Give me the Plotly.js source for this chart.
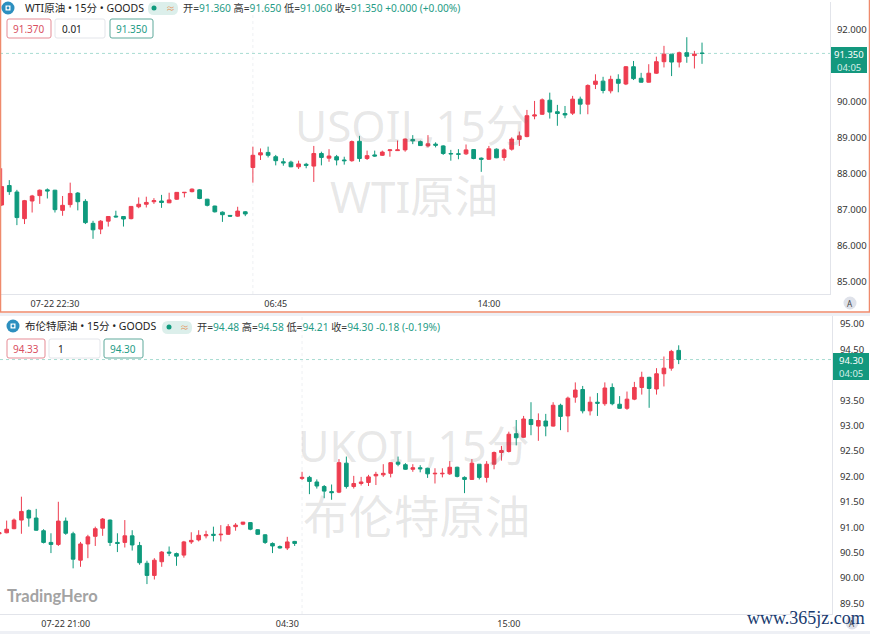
<!DOCTYPE html>
<html>
<head>
<meta charset="utf-8">
<script src="https://cdn.plot.ly/plotly-3.0.1.min.js"></script>
<style>html,body{margin:0;padding:0;background:#fff}#chart{width:870px;height:634px}</style>
</head>
<body>
<div id="chart"></div>
<script>
// ---------- WTI (USOIL) 15 min ----------
const wtiOpen = [87.14,87.68,87.50,86.76,87.25,87.40,87.56,87.55,86.99,87.15,87.47,87.24,86.63,86.47,86.69,86.83,86.82,86.76,87.09,87.16,87.23,87.25,87.20,87.30,87.48,87.51,87.56,87.30,87.11,86.94,86.85,86.83,86.95,
88.18,88.53,88.60,88.48,88.34,88.33,88.20,88.27,88.22,88.57,88.44,88.48,88.39,88.37,88.91,88.43,88.53,88.52,88.65,88.65,88.67,88.96,88.90,88.78,88.83,88.78,88.57,88.56,88.56,88.68,88.44,88.41,88.69,88.46,88.69,88.96,89.04,89.61,89.66,90.05,89.73,89.68,89.69,90.08,89.94,90.49,90.58,90.31,90.63,90.50,90.98,90.66,90.55,90.80,91.12,91.33,91.11,91.37,91.29,91.36];
const wtiHigh = [88.16,87.83,87.56,87.28,87.42,87.57,87.60,87.56,87.39,87.76,87.50,87.30,86.70,86.72,86.83,86.98,86.83,87.11,87.35,87.37,87.33,87.42,87.48,87.50,87.50,87.60,87.58,87.31,87.12,86.96,86.86,87.09,86.97,
88.76,88.71,88.76,88.53,88.44,88.37,88.37,88.31,88.78,88.62,88.69,88.53,88.48,88.93,89.06,88.65,88.65,88.65,88.69,88.93,88.99,89.08,88.93,89.08,88.88,88.80,88.67,88.69,88.82,88.69,88.46,88.78,88.71,88.71,89.02,89.18,89.78,90.03,90.10,90.26,89.92,89.89,90.17,90.15,90.49,90.77,90.70,90.73,90.77,91.00,91.14,90.81,91.05,91.26,91.56,91.33,91.40,91.80,91.42,91.65];
const wtiLow = [87.11,87.42,86.58,86.61,86.93,87.17,87.32,86.93,86.84,87.07,86.99,86.61,86.20,86.33,86.54,86.79,86.54,86.74,87.05,87.07,87.17,87.06,87.19,87.28,87.35,87.49,87.30,87.10,86.93,86.67,86.81,86.81,86.83,
87.76,88.39,88.46,88.24,88.23,88.19,88.14,88.16,87.78,88.24,88.34,88.24,88.26,88.34,88.34,88.39,88.48,88.50,88.48,88.64,88.62,88.83,88.78,88.74,88.74,88.53,88.37,88.41,88.53,88.41,88.06,88.39,88.44,88.37,88.65,88.78,89.02,89.52,89.64,89.54,89.34,89.55,89.64,89.66,89.66,90.36,90.24,90.24,90.27,90.47,90.61,90.54,90.54,90.78,90.96,90.72,90.96,91.09,90.93,91.06];
const wtiClose = [87.65,87.51,86.79,87.26,87.39,87.55,87.53,87.01,87.13,87.46,87.23,86.65,86.45,86.69,86.82,86.81,86.75,87.10,87.16,87.21,87.26,87.21,87.28,87.49,87.49,87.58,87.32,87.13,86.95,86.87,86.83,86.97,86.89,
88.52,88.59,88.52,88.37,88.31,88.20,88.28,88.24,88.57,88.46,88.50,88.39,88.37,88.90,88.43,88.51,88.50,88.61,88.67,88.67,88.97,88.92,88.79,88.84,88.80,88.57,88.56,88.55,88.67,88.43,88.41,88.70,88.45,88.67,88.97,89.06,89.62,89.64,90.06,89.72,89.68,89.64,90.08,89.94,90.46,90.58,90.32,90.63,90.52,90.98,90.65,90.55,90.80,91.12,91.33,91.11,91.37,91.27,91.33,91.35];
const wtiTickVals = [7,36,64];
const wtiTickText = ['07-22 22:30','06:45','14:00'];
const wtiPriceTicks = [92,90,89,88,87,86,85];
const wtiPriceLabels = ['92.000','90.000','89.000','88.000','87.000','86.000','85.000'];
const wtiBreak = 33;

// ---------- Brent (UKOIL) 15 min ----------
const brentOpen = [90.87,90.89,90.97,91.14,91.33,91.18,90.93,90.70,90.66,91.12,90.87,90.35,90.67,90.82,90.98,91.14,90.70,90.70,90.83,90.64,90.29,90.05,90.32,90.51,90.48,90.45,90.71,90.75,90.83,90.86,90.85,90.86,91.01,91.06,91.09,90.95,90.85,90.68,90.62,90.59,90.72,
91.96,91.98,91.89,91.80,91.70,91.69,92.26,91.80,91.86,91.88,92.01,92.03,92.06,92.28,92.23,92.14,92.17,92.16,92.05,92.05,92.05,92.18,91.98,91.94,92.24,91.98,92.24,92.47,92.49,92.84,92.77,93.12,92.99,93.09,92.99,93.40,93.19,93.56,93.71,93.29,93.46,93.43,93.75,93.42,93.34,93.52,93.75,93.95,93.72,94.02,94.13,94.48];
const brentHigh = [90.89,91.13,91.17,91.60,91.35,91.36,90.96,90.88,91.50,91.19,90.91,90.71,90.85,91.01,91.18,91.15,90.88,91.14,90.94,90.71,90.34,90.39,90.53,90.62,90.50,90.73,90.90,90.94,90.93,91.01,91.04,91.06,91.08,91.10,91.10,90.96,90.86,90.70,90.64,90.81,90.73,
92.09,92.01,91.94,91.83,91.84,92.34,92.39,92.01,91.99,92.03,92.09,92.24,92.28,92.39,92.26,92.24,92.22,92.17,92.16,92.16,92.30,92.19,92.00,92.34,92.24,92.30,92.49,92.60,92.88,93.11,93.19,93.46,93.24,93.23,93.46,93.43,93.57,93.85,93.78,93.57,93.64,93.85,93.83,93.58,93.67,93.86,94.06,93.96,94.13,94.36,94.49,94.58];
const brentLow = [90.86,90.88,90.96,90.87,91.01,90.93,90.68,90.49,90.63,90.85,90.19,90.22,90.39,90.63,90.83,90.63,90.51,90.60,90.54,90.26,89.88,89.97,90.22,90.43,90.24,90.40,90.67,90.72,90.78,90.72,90.72,90.85,90.93,91.04,90.94,90.85,90.67,90.49,90.58,90.55,90.63,
91.93,91.65,91.76,91.57,91.54,91.67,91.76,91.76,91.82,91.81,91.83,91.99,91.98,92.20,92.13,92.09,92.08,91.97,91.86,91.98,92.03,91.98,91.67,91.93,91.94,91.88,92.14,92.31,92.47,92.61,92.76,92.81,92.70,92.79,92.98,92.91,92.87,93.45,93.24,93.20,93.19,93.39,93.40,93.33,93.31,93.50,93.61,93.35,93.61,93.77,94.08,94.21];
const brentClose = [90.89,90.96,91.14,91.31,91.18,90.94,90.70,90.66,91.12,90.88,90.37,90.67,90.81,90.97,91.16,90.70,90.68,90.83,90.65,90.30,90.05,90.35,90.51,90.49,90.43,90.71,90.74,90.84,90.85,90.84,90.86,91.01,91.04,91.10,90.96,90.86,90.70,90.63,90.59,90.71,90.68,
91.98,91.90,91.81,91.71,91.68,92.27,91.80,91.86,91.89,91.99,92.04,92.06,92.27,92.24,92.14,92.17,92.15,92.05,92.06,92.06,92.18,92.00,91.94,92.26,91.98,92.24,92.47,92.51,92.83,92.76,93.13,93.02,93.10,92.99,93.40,93.18,93.54,93.70,93.29,93.46,93.44,93.74,93.43,93.34,93.52,93.75,93.95,93.73,94.02,94.13,94.46,94.30];
const brentTickVals = [9,39,69];
const brentTickText = ['07-22 21:00','04:30','15:00'];
const brentPriceTicks = [95,94.5,93.5,93,92.5,92,91.5,91,90.5,90,89.5];
const brentPriceLabels = ['95.00','94.50','93.50','93.00','92.50','92.00','91.50','91.00','90.50','90.00','89.50'];
const brentBreak = 41;

const W = 870, H = 634;
const UP = '#ee3d50', DOWN = '#0f9a7d';
const LABEL_FONT = "'Noto Sans','Noto Sans CJK SC',sans-serif";
const px = x => x / W, py = y => 1 - y / H;
const idx = a => a.map((_, i) => i);

function candle(o, h, l, c, xa, ya) {
  return {
    type: 'candlestick', x: idx(o), open: o, high: h, low: l, close: c, xaxis: xa, yaxis: ya,
    whiskerwidth: 0, hoverinfo: 'skip', showlegend: false,
    increasing: {line: {color: UP, width: 1}, fillcolor: UP},
    decreasing: {line: {color: DOWN, width: 1}, fillcolor: DOWN}
  };
}
const traces = [
  candle(wtiOpen, wtiHigh, wtiLow, wtiClose, 'x', 'y'),
  candle(brentOpen, brentHigh, brentLow, brentClose, 'x2', 'y2')
];

function xAxis(dom, range, vals, text, anchor) {
  return {
    domain: dom, range: range, anchor: anchor, type: 'linear', fixedrange: true,
    rangeslider: {visible: false}, showgrid: false, zeroline: false,
    showline: true, linecolor: '#e2e4ea', linewidth: 1, mirror: false,
    tickmode: 'array', tickvals: vals, ticktext: text, ticks: 'outside', ticklen: 1, tickcolor: 'rgba(0,0,0,0)',
    tickfont: {family: LABEL_FONT, size: 9, color: '#333'}
  };
}
function yAxis(dom, range, vals, text, anchor, tl) {
  return {
    domain: dom, range: range, anchor: anchor, side: 'right', fixedrange: true,
    showgrid: false, zeroline: false, showline: true, linecolor: '#e2e4ea', linewidth: 1,
    tickmode: 'array', tickvals: vals, ticktext: text, ticks: 'outside', ticklen: tl, tickcolor: 'rgba(0,0,0,0)',
    tickfont: {family: LABEL_FONT, size: 9.5, color: '#333'}
  };
}

function rrect(x0, y0, x1, y1, r, fill, line) {
  const X = px, Y = py, rx = r / W, ry = r / H;
  const p = `M${X(x0) + rx},${Y(y0)} L${X(x1) - rx},${Y(y0)} Q${X(x1)},${Y(y0)} ${X(x1)},${Y(y0) - ry} ` +
    `L${X(x1)},${Y(y1) + ry} Q${X(x1)},${Y(y1)} ${X(x1) - rx},${Y(y1)} L${X(x0) + rx},${Y(y1)} ` +
    `Q${X(x0)},${Y(y1)} ${X(x0)},${Y(y1) + ry} L${X(x0)},${Y(y0) - ry} Q${X(x0)},${Y(y0)} ${X(x0) + rx},${Y(y0)} Z`;
  return {type: 'path', path: p, xref: 'paper', yref: 'paper', fillcolor: fill,
    line: {color: line || 'rgba(0,0,0,0)', width: line ? 1 : 0}, layer: 'above'};
}
function rect(x0, y0, x1, y1, fill, line, lw) {
  return {type: 'rect', xref: 'paper', yref: 'paper', x0: px(x0), x1: px(x1), y0: py(y0), y1: py(y1),
    fillcolor: fill, line: {color: line || 'rgba(0,0,0,0)', width: line ? (lw || 1) : 0}, layer: 'above'};
}
function circle(cx, cy, r, fill) {
  return {type: 'circle', xref: 'paper', yref: 'paper', x0: px(cx - r), x1: px(cx + r), y0: py(cy + r), y1: py(cy - r),
    fillcolor: fill, line: {width: 0}, layer: 'above'};
}
function txt(x, y, text, size, color, anchor, family, extra) {
  return Object.assign({xref: 'paper', yref: 'paper', x: px(x), y: py(y), text: text, showarrow: false,
    xanchor: anchor || 'left', yanchor: 'middle', borderpad: 0,
    font: {family: family || LABEL_FONT, size: size, color: color}}, extra || {});
}
const V = s => `<span style="color:#1f9c86">${s}</span>`;

const shapes = [
  rect(0, 631, 870, 634, '#eef0f5'),
  rect(0, 313, 870, 316, '#eef0f5'),
  rect(0.5, -2, 869.5, 312, 'rgba(0,0,0,0)', '#ef8a6c', 1.5),
  {type: 'line', xref: 'x', yref: 'y domain', x0: wtiBreak, x1: wtiBreak, y0: 0, y1: 1, line: {color: '#eef0f3', width: 1, dash: 'dot'}, layer: 'below'},
  {type: 'line', xref: 'x2', yref: 'y2 domain', x0: brentBreak, x1: brentBreak, y0: 0, y1: 1, line: {color: '#eef0f3', width: 1, dash: 'dot'}, layer: 'below'},
  {type: 'line', xref: 'x domain', yref: 'y', x0: 0, x1: 1, y0: wtiClose[92], y1: wtiClose[92], line: {color: '#a9dcd2', width: 1, dash: 'dot'}, layer: 'below'},
  {type: 'line', xref: 'x2 domain', yref: 'y2', x0: 0, x1: 1, y0: brentClose[92], y1: brentClose[92], line: {color: '#a9dcd2', width: 1, dash: 'dot'}, layer: 'below'},
  circle(8, 8, 6.5, '#2d8fbf'), rect(5.5, 5.5, 10.5, 10.5, '#fff'), circle(8, 8, 1.4, '#2d8fbf'),
  circle(13, 326, 6.5, '#2d8fbf'), rect(10.5, 323.5, 15.5, 328.5, '#fff'), circle(13, 326, 1.4, '#2d8fbf'),
  rrect(148, 2, 178, 15, 6, '#dcefeb'), circle(154, 8, 2.5, '#0f9a7d'),
  rrect(162, 321, 192, 334, 6, '#dcefeb'), circle(169, 327, 2.5, '#0f9a7d'),
  rrect(7, 19, 51, 38, 2, '#fff', '#e58b95'),
  rrect(55, 19, 105, 38, 2, '#fff', '#e3e5ea'),
  rrect(110, 19, 153, 38, 2, '#fff', '#5fa99b'),
  rrect(7, 339, 45, 358, 2, '#fff', '#e58b95'),
  rrect(49, 339, 100, 358, 2, '#fff', '#e3e5ea'),
  rrect(104, 339, 143, 358, 2, '#fff', '#5fa99b'),
  rect(831, 47, 867, 73, '#13987e'),
  rect(833, 353, 869, 380, '#13987e'),
  circle(850, 303, 6.5, '#dfe2ea'),
  circle(852, 623, 6.5, '#dfe2ea')
];

const WM = "'Noto Sans','Noto Sans CJK SC',sans-serif";
const WMC = 'rgba(110,110,110,0.17)';
const annotations = [
  txt(412.5, 125, 'USOIL,15分', 44, WMC, 'center', WM),
  txt(414, 196, 'WTI原油', 44, WMC, 'center', WM),
  txt(414, 445, 'UKOIL,15分', 43, WMC, 'center', WM),
  txt(416.5, 516, '布伦特原油', 45.5, WMC, 'center', WM),

  txt(24, 8, 'WTI原油 • 15分 • GOODS', 10.5, '#222'),
  txt(170, 8, '≈', 9, '#e39a68', 'center'),
  txt(182, 8, `开=${V('91.360')} 高=${V('91.650')} 低=${V('91.060')} 收=${V('91.350')} ${V('+0.000 (+0.00%)')}`, 10.2, '#333'),
  txt(29, 29, '91.370', 10, '#d9505f', 'center'),
  txt(61, 29, '0.01', 10, '#222'),
  txt(131.5, 29, '91.350', 10, '#1f9c86', 'center'),

  txt(24, 326, '布伦特原油 • 15分 • GOODS', 10.5, '#222'),
  txt(184, 327, '≈', 9, '#e39a68', 'center'),
  txt(196, 327, `开=${V('94.48')} 高=${V('94.58')} 低=${V('94.21')} 收=${V('94.30')} ${V('-0.18 (-0.19%)')}`, 10.2, '#333'),
  txt(26, 349, '94.33', 10, '#d9505f', 'center'),
  txt(57, 349, '1', 10, '#222'),
  txt(123.5, 349, '94.30', 10, '#1f9c86', 'center'),

  txt(849, 54, '91.350', 9.5, '#fff', 'center'),
  txt(849, 67, '04:05', 9.5, '#d6efe9', 'center'),
  txt(851, 360, '94.30', 9.5, '#fff', 'center'),
  txt(851, 373, '04:05', 9.5, '#d6efe9', 'center'),
  txt(850, 303, 'A', 8, '#444', 'center'),
  txt(852, 623, 'A', 8, '#444', 'center'),

  txt(6, 596, '<b>TradingHero</b>', 16.5, '#a3a3a3', 'left', "Lato,sans-serif"),
  txt(746, 618, 'www.365jz.com', 18, '#183a6e', 'left', "'Liberation Serif',serif")
];

const layout = {
  width: W, height: H, margin: {l: 0, r: 0, t: 0, b: 0, pad: 0},
  paper_bgcolor: '#fff', plot_bgcolor: '#fff', hovermode: false, showlegend: false, dragmode: false,
  xaxis: xAxis([0, 830 / W], [-0.22, 108.81], wtiTickVals, wtiTickText, 'y'),
  yaxis: yAxis([py(294), py(2)], [84.667, 92.778], wtiPriceTicks, wtiPriceLabels, 'x', 4),
  xaxis2: xAxis([0, 832 / W], [0.1, 112.76], brentTickVals, brentTickText, 'y2'),
  yaxis2: yAxis([py(614), py(316)], [89.291, 95.157], brentPriceTicks, brentPriceLabels, 'x2', 5),
  shapes: shapes, annotations: annotations
};
Plotly.newPlot('chart', traces, layout, {displayModeBar: false, staticPlot: true});
</script>
</body>
</html>
